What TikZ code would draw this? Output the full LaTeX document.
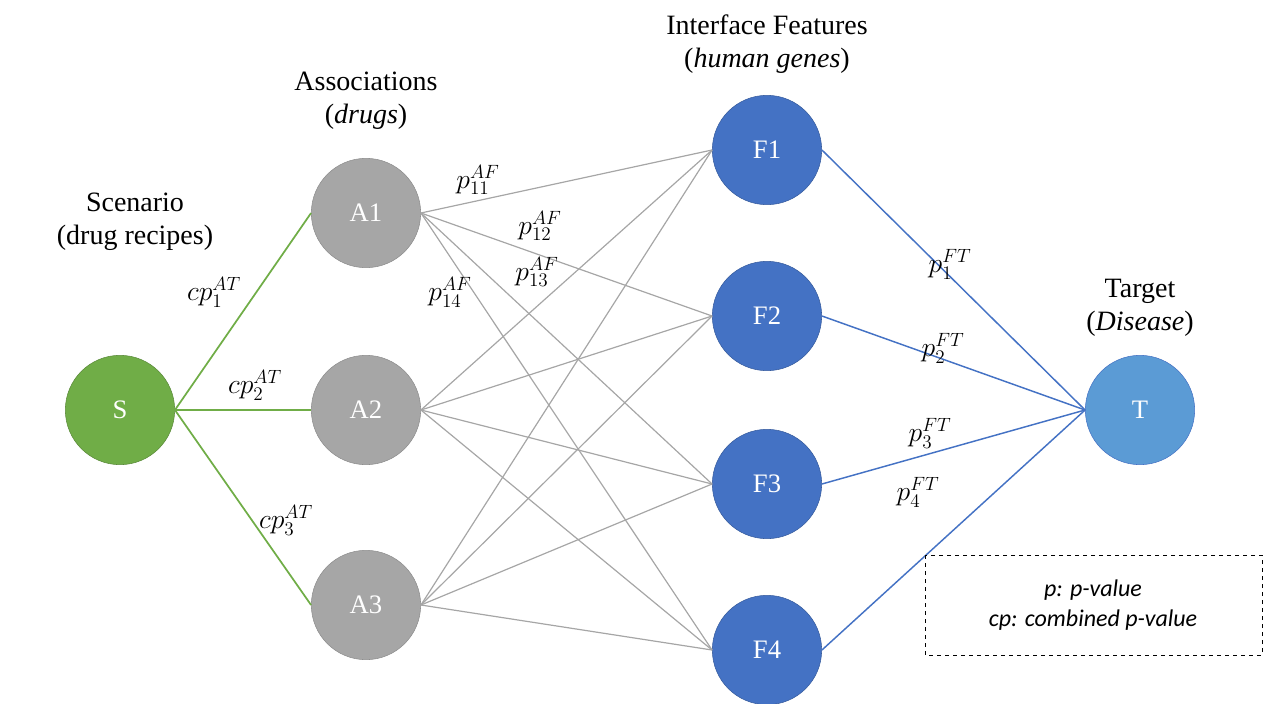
\documentclass[tikz,border=0pt]{standalone}
\usepackage{amsmath}
\usepackage{fontspec}
\setmainfont{Liberation Serif}
\setsansfont{Carlito}
\usepackage{tikz}

\definecolor{sgreen}{RGB}{112,173,71}
\definecolor{agray}{RGB}{166,166,166}
\definecolor{fblue}{RGB}{68,114,196}
\definecolor{tblue}{RGB}{91,155,213}

\begin{document}
\begin{tikzpicture}[x=0.75pt,y=0.75pt,yscale=-1,xscale=1,
  state/.style={circle,minimum size=82pt,inner sep=0pt,text=white,font=\fontsize{20}{22}\selectfont},
  head/.style={align=center,font=\fontsize{21}{25}\selectfont},
  lab/.style={inner sep=1pt,font=\fontsize{21}{22}\selectfont}]
\useasboundingbox (0,0) rectangle (1280,703);

% Nodes
\node [state,fill=sgreen,draw=sgreen!80!black] (S) at (120,410) {S};
\node [state,fill=agray,draw=agray!85!black] (A1) at (366,213) {A1};
\node [state,fill=agray,draw=agray!85!black] (A2) at (366,410) {A2};
\node [state,fill=agray,draw=agray!85!black] (A3) at (366,605) {A3};
\node [state,fill=fblue,draw=fblue!80!black] (F1) at (767,150) {F1};
\node [state,fill=fblue,draw=fblue!80!black] (F2) at (767,316) {F2};
\node [state,fill=fblue,draw=fblue!80!black] (F3) at (767,484) {F3};
\node [state,fill=fblue,draw=fblue!80!black] (F4) at (767,650) {F4};
\node [state,fill=tblue,draw=fblue] (T) at (1140,410) {T};

% Headings
\node [head] (hS) at (135,222) {Scenario\\(drug recipes)};
\node [head] (hA) at (366,101) {Associations\\(\textit{drugs})};
\node [head] (hF) at (767,44) {Interface Features\\(\textit{human genes})};
\node [head] (hT) at (1140,308) {Target\\(\textit{Disease})};

% Edges
\foreach \a in {A1,A2,A3}
  \draw [sgreen,line width=1.3pt] (S.east) -- (\a.west);
\foreach \a in {A1,A2,A3}
  \foreach \f in {F1,F2,F3,F4}
    \draw [agray,line width=0.9pt] (\a.east) -- (\f.west);
\foreach \f in {F1,F2,F3,F4}
  \draw [fblue,line width=1.1pt] (\f.east) -- (T.west);

% Edge labels
\node [lab] (c1) at (214,292) {$cp_1^{AT}$};
\node [lab] (c2) at (255,385) {$cp_2^{AT}$};
\node [lab] (c3) at (286,520) {$cp_3^{AT}$};
\node [lab] (p11) at (478,180) {$p_{11}^{AF}$};
\node [lab] (p12) at (540,226) {$p_{12}^{AF}$};
\node [lab] (p13) at (537,272) {$p_{13}^{AF}$};
\node [lab] (p14) at (450,292) {$p_{14}^{AF}$};
\node [lab] (q1) at (950,264) {$p_1^{FT}$};
\node [lab] (q2) at (943,348) {$p_2^{FT}$};
\node [lab] (q3) at (930,433) {$p_3^{FT}$};
\node [lab] (q4) at (918,492) {$p_4^{FT}$};

% Legend
\draw [dashed,line width=0.7pt] (925,555) rectangle (1262,655);
\node [align=center,font=\sffamily\itshape\fontsize{18}{23}\selectfont] (leg) at (1093,605) {p: p-value\\cp: combined p-value};

\end{tikzpicture}
\end{document}
